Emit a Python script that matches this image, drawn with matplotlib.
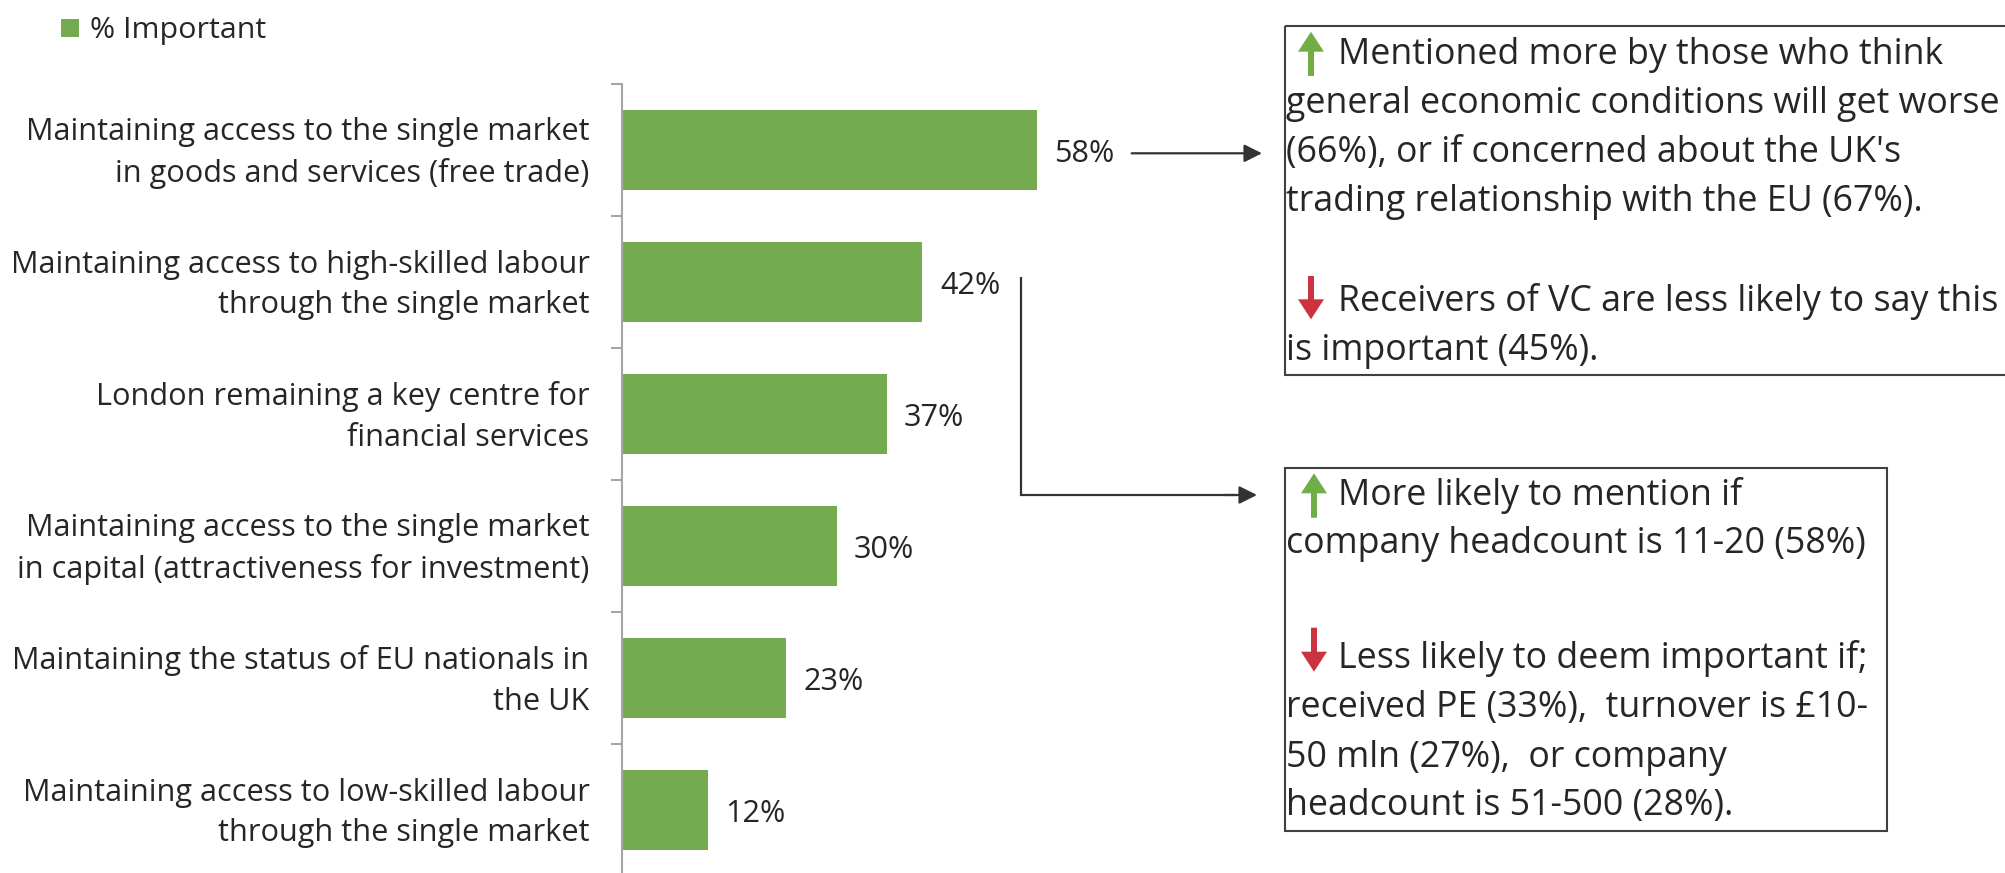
import numpy as np
import matplotlib
matplotlib.use("Agg")
import matplotlib.pyplot as plt
import matplotlib.transforms as mtransforms
from matplotlib.textpath import TextPath
from matplotlib.font_manager import FontProperties
from matplotlib.patches import Rectangle, FancyArrow

# ---------------- data ----------------
categories = [
    "Maintaining access to the single market\nin goods and services (free trade)",
    "Maintaining access to high-skilled labour\nthrough the single market",
    "London remaining a key centre for\nfinancial services",
    "Maintaining access to the single market\nin capital (attractiveness for investment)",
    "Maintaining the status of EU nationals in\nthe UK",
    "Maintaining access to low-skilled labour\nthrough the single market",
]
values = [58, 42, 37, 30, 23, 12]
value_labels = ["58%", "42%", "37%", "30%", "23%", "12%"]
series_name = "% Important"

box1_lines = [
    "Mentioned more by those who think",
    "general economic conditions will get worse",
    "(66%), or if concerned about the UK's",
    "trading relationship with the EU (67%).",
    "Receivers of VC are less likely to say this",
    "is important (45%).",
]
box2_lines = [
    "More likely to mention if",
    "company headcount is 11-20 (58%)",
    "Less likely to deem important if;",
    "received PE (33%),  turnover is \u00a310-",
    "50 mln (27%),  or company",
    "headcount is 51-500 (28%).",
]

# ---------------- style ----------------
W, H, DPI = 2006, 873, 100
FAMILY = "Open Sans"
GREEN = "#75AB50"
ARROW_GREEN = "#70AD47"
ARROW_RED = "#CC3340"
TEXT = "#262626"
AXIS = "#A6A6A6"
BORDER = "#404040"

plt.rcParams["font.family"] = [FAMILY, "DejaVu Sans"]


def fit_size(text, target_px):
    tp = TextPath((0, 0), text, size=10, prop=FontProperties(family=FAMILY))
    return 10 * (target_px * 72 / DPI) / tp.get_extents().width


label_fs = fit_size("Maintaining access to the single market", 558)
box_fs = fit_size("general economic conditions will get worse", 711)
legend_fs = fit_size("% Important", 174)

fig = plt.figure(figsize=(W / DPI, H / DPI), dpi=DPI)
renderer = fig.canvas.get_renderer()
_, lh, ld = renderer.get_text_width_height_descent(
    "lp", FontProperties(family=FAMILY, size=label_fs), ismath=False)
label_ls = 41.6 / (lh - ld) * 0.805

# ---------------- main bar axes ----------------
ax_left, ax_top, ax_bottom = 621.7, 84.3, 876.3
px_per_unit = 7.16
xmax = 60
ax = fig.add_axes([ax_left / W, 1 - ax_bottom / H,
                   xmax * px_per_unit / W, (ax_bottom - ax_top) / H])
n = len(values)
ypos = np.arange(n)
ax.barh(ypos, values, height=0.606, color=GREEN, zorder=2)
ax.set_xlim(0, xmax)
ax.set_ylim(n - 0.5, -0.5)
for s in ["top", "right", "bottom"]:
    ax.spines[s].set_visible(False)
ax.spines["left"].set_color(AXIS)
ax.spines["left"].set_linewidth(1.5)
ax.set_xticks([])
ax.set_yticks(ypos)
ax.set_yticklabels(categories, fontsize=label_fs, color=TEXT,
                   linespacing=label_ls, ha="right", va="center")
ax.tick_params(axis="y", which="major", length=0, pad=23.1)
ax.set_yticks(np.arange(-0.5, n, 1.0), minor=True)
ax.tick_params(axis="y", which="minor", length=7.9, width=1.5, color=AXIS)
ax.patch.set_alpha(0)
shift = mtransforms.ScaledTranslation(0, -2.5 / DPI, fig.dpi_scale_trans)
for lab in ax.get_yticklabels():
    lab.set_transform(lab.get_transform() + shift)

for i, (v, lbl) in enumerate(zip(values, value_labels)):
    ax.annotate(lbl, (v, i), xytext=(17.5 * 72 / DPI, -3.0), textcoords="offset points",
                ha="left", va="center", fontsize=label_fs, color=TEXT)

# ---------------- overlay (pixel coordinates) ----------------
ov = fig.add_axes([0, 0, 1, 1])
ov.set_xlim(0, W)
ov.set_ylim(H, 0)
ov.axis("off")
ov.patch.set_alpha(0)

# legend
ov.add_patch(Rectangle((61, 19), 18, 18, color=GREEN, lw=0))
ov.text(90, 38, series_name, fontsize=legend_fs, color=TEXT, ha="left", va="baseline")

# connector arrows
ov.annotate("", xy=(1262, 153.3), xytext=(1131.7, 153.3),
            arrowprops=dict(arrowstyle="-|>", color="#333333", lw=1.6,
                            mutation_scale=27, shrinkA=0, shrinkB=0))
ov.plot([1021, 1021, 1235], [276.7, 495, 495], color="#333333", lw=1.6,
        solid_joinstyle="miter", solid_capstyle="butt")
ov.annotate("", xy=(1257, 495), xytext=(1225, 495),
            arrowprops=dict(arrowstyle="-|>", color="#333333", lw=1.6,
                            mutation_scale=27, shrinkA=0, shrinkB=0))

# boxes
ov.add_patch(Rectangle((1285, 26), 760, 349, fill=False, ec=BORDER, lw=1.5))
ov.add_patch(Rectangle((1285, 468.3), 1886.7 - 1285, 830.7 - 468.3,
                       fill=False, ec=BORDER, lw=1.5))

box1_base = [64, 113, 162, 211, 311, 360]
box1_x = [1338, 1286, 1286, 1286, 1338, 1286]
for t, x, y in zip(box1_lines, box1_x, box1_base):
    ov.text(x, y, t, fontsize=box_fs, color=TEXT, ha="left", va="baseline")

box2_base = [505, 553.5, 668, 717, 766.5, 815]
box2_x = [1338, 1286, 1338, 1286, 1286, 1286]
for t, x, y in zip(box2_lines, box2_x, box2_base):
    ov.text(x, y, t, fontsize=box_fs, color=TEXT, ha="left", va="baseline")


def updown(x, y_from, y_to, color):
    ov.add_patch(FancyArrow(x, y_from, 0, y_to - y_from, width=6, head_width=26,
                            head_length=20, length_includes_head=True,
                            color=color, lw=0))


updown(1311, 76, 31.7, ARROW_GREEN)
updown(1311, 276, 319.3, ARROW_RED)
updown(1314, 517.7, 473.3, ARROW_GREEN)
updown(1314, 627.7, 671.7, ARROW_RED)

fig.savefig("out.png", dpi=DPI)
